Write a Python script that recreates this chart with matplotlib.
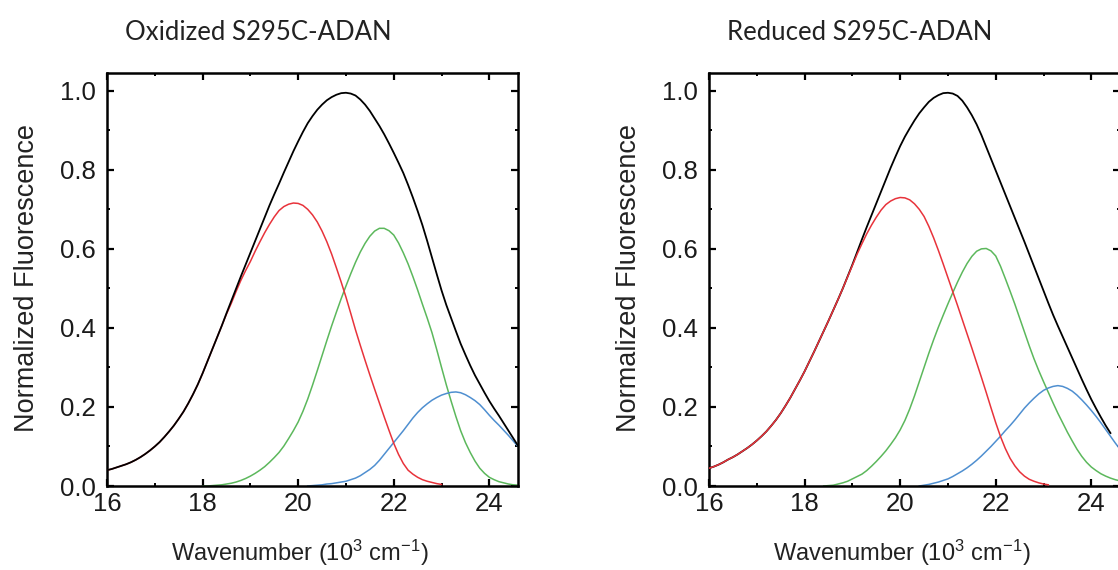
import matplotlib
matplotlib.use("Agg")
import matplotlib.pyplot as plt
from matplotlib.ticker import MultipleLocator, FormatStrFormatter

plt.rcParams['font.family'] = ['Liberation Sans', 'DejaVu Sans']
plt.rcParams['mathtext.fontset'] = 'custom'
plt.rcParams['mathtext.rm'] = 'Liberation Sans'
plt.rcParams['mathtext.it'] = 'Liberation Sans:italic'
plt.rcParams['mathtext.bf'] = 'Liberation Sans:bold'

# ---------------- data ----------------
wavenumber = [16.0, 16.1, 16.2, 16.3, 16.4, 16.5, 16.6, 16.7, 16.8, 16.9,
              17.0, 17.1, 17.2, 17.3, 17.4, 17.5, 17.6, 17.7, 17.8, 17.9,
              18.0, 18.1, 18.2, 18.3, 18.4, 18.5, 18.6, 18.7, 18.8, 18.9,
              19.0, 19.1, 19.2, 19.3, 19.4, 19.5, 19.6, 19.7, 19.8, 19.9,
              20.0, 20.1, 20.2, 20.3, 20.4, 20.5, 20.6, 20.7, 20.8, 20.9,
              21.0, 21.1, 21.2, 21.3, 21.4, 21.5, 21.6, 21.7, 21.8, 21.9,
              22.0, 22.1, 22.2, 22.3, 22.4, 22.5, 22.6, 22.7, 22.8, 22.9,
              23.0, 23.1, 23.2, 23.3, 23.4, 23.5, 23.6, 23.7, 23.8, 23.9,
              24.0, 24.1, 24.2, 24.3, 24.4, 24.5, 24.6]

# ---- Oxidized S295C-ADAN ----
ox_total_start = 16.0
ox_total = [0.040, 0.043, 0.047, 0.051, 0.055, 0.060, 0.066, 0.073, 0.081, 0.090,
            0.100, 0.111, 0.124, 0.138, 0.153, 0.170, 0.188, 0.209, 0.232, 0.257,
            0.285, 0.315, 0.345, 0.375, 0.405, 0.437, 0.468, 0.499, 0.530, 0.560,
            0.590, 0.620, 0.650, 0.680, 0.710, 0.738, 0.765, 0.793, 0.820, 0.847,
            0.872, 0.896, 0.918, 0.936, 0.952, 0.965, 0.976, 0.984, 0.990, 0.994,
            0.995, 0.993, 0.988, 0.978, 0.965, 0.949, 0.930, 0.911, 0.890, 0.867,
            0.843, 0.818, 0.792, 0.762, 0.730, 0.696, 0.660, 0.620, 0.578, 0.536,
            0.495, 0.458, 0.425, 0.392, 0.360, 0.332, 0.305, 0.280, 0.258, 0.236,
            0.215, 0.196, 0.178, 0.159, 0.140, 0.121, 0.102]

ox_band1_start = 16.0
ox_band1 = [0.040, 0.043, 0.047, 0.051, 0.055, 0.060, 0.066, 0.073, 0.081, 0.090,
            0.100, 0.111, 0.124, 0.138, 0.153, 0.170, 0.188, 0.209, 0.232, 0.257,
            0.285, 0.315, 0.345, 0.375, 0.405, 0.435, 0.462, 0.492, 0.520, 0.545,
            0.568, 0.594, 0.618, 0.641, 0.662, 0.681, 0.697, 0.707, 0.713, 0.716,
            0.715, 0.710, 0.700, 0.686, 0.668, 0.645, 0.618, 0.587, 0.552, 0.516,
            0.478, 0.437, 0.395, 0.356, 0.318, 0.281, 0.245, 0.210, 0.175, 0.141,
            0.108, 0.080, 0.057, 0.040, 0.030, 0.022, 0.016, 0.012, 0.009, 0.006,
            0.004]

ox_band2_start = 18.0
ox_band2 = [0.000, 0.000, 0.001, 0.002, 0.003, 0.005, 0.007, 0.010, 0.014, 0.019,
            0.025, 0.032, 0.040, 0.049, 0.060, 0.072, 0.085, 0.101, 0.120, 0.140,
            0.162, 0.189, 0.220, 0.255, 0.292, 0.330, 0.368, 0.405, 0.440, 0.474,
            0.506, 0.537, 0.566, 0.592, 0.614, 0.632, 0.645, 0.652, 0.652, 0.646,
            0.635, 0.615, 0.590, 0.562, 0.530, 0.496, 0.460, 0.425, 0.388, 0.345,
            0.300, 0.256, 0.215, 0.176, 0.140, 0.110, 0.085, 0.063, 0.045, 0.032,
            0.022, 0.016, 0.011, 0.008, 0.005, 0.003, 0.002]

ox_band3_start = 20.2
ox_band3 = [0.000, 0.001, 0.002, 0.003, 0.005, 0.006, 0.008, 0.010,
            0.012, 0.016, 0.020, 0.026, 0.034, 0.042, 0.052, 0.065, 0.080, 0.095,
            0.110, 0.125, 0.140, 0.156, 0.172, 0.186, 0.198, 0.208, 0.217, 0.224,
            0.230, 0.234, 0.237, 0.238, 0.236, 0.231, 0.224, 0.216, 0.206, 0.193,
            0.179, 0.166, 0.154, 0.141, 0.128, 0.114, 0.100]

# ---- Reduced S295C-ADAN ----
red_total_start = 16.0
red_total = [0.045, 0.049, 0.054, 0.060, 0.067, 0.073, 0.080, 0.088, 0.096, 0.105,
             0.115, 0.126, 0.138, 0.152, 0.167, 0.184, 0.203, 0.223, 0.245, 0.267,
             0.290, 0.315, 0.340, 0.366, 0.392, 0.418, 0.445, 0.472, 0.500, 0.530,
             0.560, 0.592, 0.624, 0.655, 0.685, 0.715, 0.745, 0.775, 0.805, 0.833,
             0.860, 0.884, 0.905, 0.925, 0.943, 0.958, 0.972, 0.982, 0.989, 0.994,
             0.995, 0.993, 0.987, 0.975, 0.958, 0.938, 0.915, 0.888, 0.858, 0.828,
             0.798, 0.768, 0.738, 0.708, 0.678, 0.648, 0.618, 0.587, 0.556, 0.525,
             0.494, 0.463, 0.433, 0.405, 0.378, 0.351, 0.324, 0.297, 0.270, 0.244,
             0.219, 0.196, 0.174, 0.153, 0.134]

red_band1_start = 16.0
red_band1 = [0.045, 0.049, 0.054, 0.060, 0.067, 0.073, 0.080, 0.088, 0.096, 0.105,
             0.115, 0.126, 0.138, 0.152, 0.167, 0.184, 0.203, 0.223, 0.245, 0.267,
             0.290, 0.315, 0.340, 0.366, 0.392, 0.418, 0.445, 0.472, 0.500, 0.529,
             0.558, 0.587, 0.613, 0.638, 0.660, 0.680, 0.698, 0.712, 0.721, 0.727,
             0.730, 0.729, 0.724, 0.714, 0.700, 0.682, 0.657, 0.628, 0.596, 0.562,
             0.527, 0.492, 0.457, 0.421, 0.385, 0.349, 0.312, 0.275, 0.237, 0.198,
             0.160, 0.125, 0.095, 0.070, 0.051, 0.036, 0.025, 0.017, 0.012, 0.008,
             0.005, 0.003]

red_band2_start = 18.4
red_band2 = [0.000, 0.001, 0.002, 0.005, 0.008, 0.012,
             0.018, 0.024, 0.030, 0.039, 0.050, 0.062, 0.075, 0.089, 0.105, 0.122,
             0.142, 0.166, 0.195, 0.228, 0.264, 0.300, 0.336, 0.370, 0.402, 0.432,
             0.461, 0.489, 0.516, 0.541, 0.563, 0.581, 0.594, 0.600, 0.601, 0.595,
             0.582, 0.556, 0.525, 0.493, 0.460, 0.425, 0.390, 0.355, 0.322, 0.292,
             0.264, 0.237, 0.210, 0.184, 0.160, 0.136, 0.114, 0.093, 0.075, 0.060,
             0.048, 0.039, 0.031, 0.025, 0.020, 0.016, 0.013]

red_band3_start = 20.4
red_band3 = [0.000, 0.002, 0.004, 0.007, 0.010, 0.014,
             0.018, 0.024, 0.031, 0.038, 0.046, 0.055, 0.065, 0.076, 0.088, 0.100,
             0.113, 0.126, 0.140, 0.153, 0.167, 0.182, 0.197, 0.210, 0.222, 0.233,
             0.242, 0.248, 0.252, 0.254, 0.252, 0.247, 0.240, 0.230, 0.218, 0.205,
             0.191, 0.176, 0.160, 0.143, 0.126, 0.109, 0.093]

titles = ["Oxidized S295C-ADAN", "Reduced S295C-ADAN"]
xlabel = r"Wavenumber (10$^{3}$ cm$^{-1}$)"
ylabel = "Normalized Fluorescence"


def xs(start, vals):
    i0 = wavenumber.index(start)
    return wavenumber[i0:i0 + len(vals)]


# ---------------- figure ----------------
W, H = 1118, 570
fig = plt.figure(figsize=(W / 100, H / 100), dpi=100)

RED, GREEN, BLUE = '#e8333b', '#5cb85c', '#4f8fd0'

panels = [
    dict(x0=107, tot=(ox_total_start, ox_total), b1=(ox_band1_start, ox_band1),
         b2=(ox_band2_start, ox_band2), b3=(ox_band3_start, ox_band3),
         tx=125, lx=300, ylx=27, red_on_top=False),
    dict(x0=709, tot=(red_total_start, red_total), b1=(red_band1_start, red_band1),
         b2=(red_band2_start, red_band2), b3=(red_band3_start, red_band3),
         tx=727, lx=902, ylx=629, red_on_top=True),
]

for i, p in enumerate(panels):
    ax = fig.add_axes([p['x0'] / W, 84 / H, 411 / W, 413 / H])
    ax.plot(xs(*p['b2']), p['b2'][1], color=GREEN, lw=1.1, zorder=2)
    ax.plot(xs(*p['b3']), p['b3'][1], color=BLUE, lw=1.1, zorder=2)
    ax.plot(xs(*p['tot']), p['tot'][1], color='black', lw=1.3,
            zorder=2.5 if p['red_on_top'] else 3.5)
    ax.plot(xs(*p['b1']), p['b1'][1], color=RED, lw=1.1, zorder=3)

    ax.set_xlim(16, 24.6)
    ax.set_ylim(0, 1.045)
    ax.xaxis.set_major_locator(MultipleLocator(2))
    ax.xaxis.set_minor_locator(MultipleLocator(1))
    ax.yaxis.set_major_locator(MultipleLocator(0.2))
    ax.yaxis.set_minor_locator(MultipleLocator(0.1))
    ax.yaxis.set_major_formatter(FormatStrFormatter('%.1f'))
    ax.tick_params(which='both', direction='in', top=True, right=True, color='black')
    ax.tick_params(which='major', length=5, width=1.6, labelsize=18.5,
                   labelcolor='#1a1a1a')
    ax.tick_params(which='minor', length=2.5, width=1.4)
    ax.tick_params(axis='y', which='major', pad=8)
    ax.tick_params(axis='x', which='major', pad=4)
    for s in ax.spines.values():
        s.set_linewidth(1.8)
        s.set_color('black')

    fig.text(p['tx'] / W, 1 - 32 / H, titles[i], family='Lato', fontsize=18.5,
             ha='left', va='center', color='#222222')
    fig.text(p['lx'] / W, 1 - 553 / H, xlabel, fontsize=17, ha='center',
             va='center', color='#222222')
    fig.text(p['ylx'] / W, 1 - 278 / H, ylabel, fontsize=19.5, rotation=90,
             ha='center', va='center', color='#222222')

fig.savefig('out.png', dpi=100)
